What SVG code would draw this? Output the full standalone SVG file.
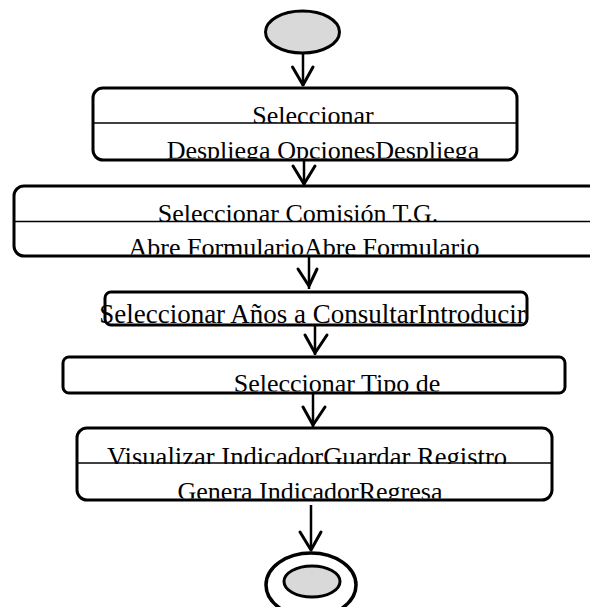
<svg xmlns="http://www.w3.org/2000/svg" width="590" height="607" viewBox="0 0 590 607">
  <style>
    .box { fill: #ffffff; stroke: #000000; stroke-width: 3; }
    .div { stroke: #000000; stroke-width: 1.6; fill: none; }
    .lbl { font-family: "Liberation Serif", "Times New Roman", serif; font-size: 26px; fill: #000000; text-anchor: middle; }
    .flow { stroke: #000000; stroke-width: 2.5; fill: none; }
    .head { stroke: #000000; stroke-width: 3; fill: none; stroke-linecap: round; stroke-linejoin: round; }
    .dot { fill: #d9d9d9; stroke: #000000; stroke-width: 3; }
  </style>
  <defs>
    <clipPath id="c1a"><rect x="93" y="88" width="424" height="35"/></clipPath>
    <clipPath id="c1b"><rect x="93" y="123" width="424" height="35.5"/></clipPath>
    <clipPath id="c2a"><rect x="14" y="186" width="590" height="35.5"/></clipPath>
    <clipPath id="c2b"><rect x="14" y="221.5" width="590" height="33"/></clipPath>
    <clipPath id="c4"><rect x="63" y="357" width="502" height="34.5"/></clipPath>
    <clipPath id="c5a"><rect x="77" y="428" width="475" height="36"/></clipPath>
    <clipPath id="c5b"><rect x="77" y="463" width="475" height="35.5"/></clipPath>
  </defs>

  <!-- connectors -->
  <g id="connectors">
    <line class="flow" x1="303" y1="53" x2="303" y2="86"/>
    <polyline class="head" points="292.5,67 303,85 313,67"/>
    <line class="flow" x1="304" y1="160" x2="304" y2="185"/>
    <polyline class="head" points="293,166 304,184 315,166"/>
    <line class="flow" x1="309" y1="257" x2="309" y2="289"/>
    <polyline class="head" points="298,269 309,286 317,269"/>
    <line class="flow" x1="315" y1="326" x2="315" y2="355"/>
    <polyline class="head" points="305,335 315,353 327,335"/>
    <line class="flow" x1="313" y1="393" x2="313" y2="427"/>
    <polyline class="head" points="303,407 313,425 325,407"/>
    <line class="flow" x1="311" y1="505" x2="311" y2="550"/>
    <polyline class="head" points="300,532 311,550 321,532"/>
  </g>

  <!-- start -->
  <g id="start">
    <ellipse class="dot" cx="302.5" cy="32" rx="37" ry="21"/>
  </g>

  <!-- step 1 -->
  <g id="seleccionar">
    <rect class="box" x="93" y="88" width="424" height="72" rx="10"/>
    <line class="div" x1="93" y1="123" x2="517" y2="123"/>
    <text class="lbl" x="313" y="124" clip-path="url(#c1a)">Seleccionar</text>
    <text class="lbl" x="323" y="159" clip-path="url(#c1b)">Despliega OpcionesDespliega</text>
  </g>

  <!-- step 2 -->
  <g id="comision">
    <rect class="box" x="14" y="186" width="600" height="70" rx="10"/>
    <line class="div" x1="14" y1="221.5" x2="604" y2="221.5"/>
    <text class="lbl" x="298" y="222" clip-path="url(#c2a)">Seleccionar Comisión T.G.</text>
    <text class="lbl" x="304" y="256" clip-path="url(#c2b)">Abre FormularioAbre Formulario</text>
  </g>

  <!-- step 3 -->
  <g id="anios">
    <rect class="box" x="105" y="292" width="422" height="33" rx="6"/>
    <text class="lbl" x="312.5" y="323" style="font-size:27px">Seleccionar Años a ConsultarIntroducir</text>
  </g>

  <!-- step 4 -->
  <g id="tipo">
    <rect class="box" x="63" y="357" width="502" height="36" rx="6"/>
    <text class="lbl" x="337" y="392" clip-path="url(#c4)">Seleccionar Tipo de</text>
  </g>

  <!-- step 5 -->
  <g id="visualizar">
    <rect class="box" x="77" y="428" width="475" height="72" rx="10"/>
    <line class="div" x1="77" y1="463" x2="552" y2="463"/>
    <text class="lbl" x="307" y="466" style="font-size:26.6px" clip-path="url(#c5a)">Visualizar IndicadorGuardar Registro</text>
    <text class="lbl" x="310" y="500" clip-path="url(#c5b)">Genera IndicadorRegresa</text>
  </g>

  <!-- end -->
  <g id="end">
    <ellipse cx="311" cy="585" rx="45" ry="32" fill="#ffffff" stroke="#000000" stroke-width="3.5"/>
    <ellipse class="dot" cx="312" cy="581.5" rx="28" ry="15.5"/>
  </g>
</svg>
